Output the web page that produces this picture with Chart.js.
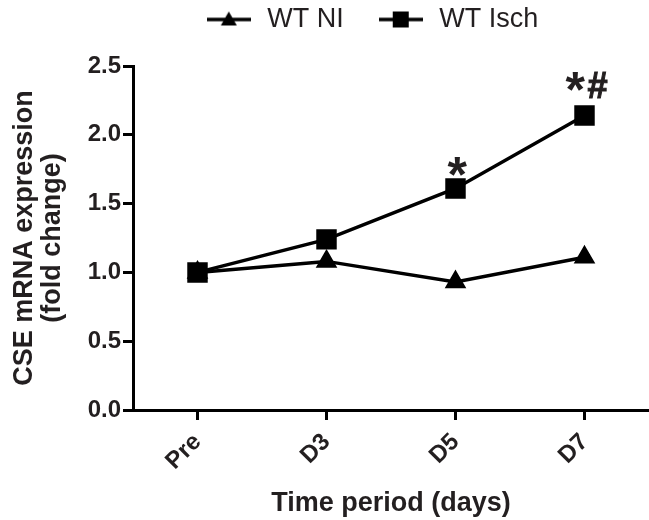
<!DOCTYPE html>
<html>
<head>
<meta charset="utf-8">
<script src="https://cdn.jsdelivr.net/npm/chart.js@4.4.1/dist/chart.umd.min.js"></script>
<style>
  body { margin: 0; background: #fff; }
  #chart { display: block; }
</style>
</head>
<body>
<canvas id="chart" width="649" height="520"></canvas>
<script>
const categories = ['Pre', 'D3', 'D5', 'D7'];
const wtNI = [1.0, 1.08, 0.93, 1.11];
const wtIsch = [1.0, 1.24, 1.61, 2.14];
const yTicks = [0, 0.5, 1.0, 1.5, 2.0, 2.5];
const marks = ['', '', '*', '*#'];   // significance marks over WT Isch

const FONT = "'Liberation Sans', Arial, sans-serif";
const TEXT = '#231f20';
const markTop = [0, 0, 31, 44];      // px from point centre up to top of mark
const glyphHeight = { '*': 19, '#': 25 };

// legend icon: line with the marker in the middle
function legendIcon(style) {
    const c = document.createElement('canvas');
    c.width = 44;
    c.height = 22;
    const ctx = c.getContext('2d');
    ctx.strokeStyle = '#000';
    ctx.lineWidth = 3.5;
    ctx.beginPath();
    ctx.moveTo(0, 11);
    ctx.lineTo(44, 11);
    ctx.stroke();
    ctx.fillStyle = '#000';
    ctx.beginPath();
    if (style === 'triangle') {
        ctx.moveTo(22, 3);
        ctx.lineTo(30, 17);
        ctx.lineTo(14, 17);
    } else {
        ctx.rect(14, 3, 16, 16);
    }
    ctx.fill();
    return c;
}
const icons = [legendIcon('triangle'), legendIcon('rect')];

// size a glyph so its inked height matches the target
function glyphMetrics(ctx, ch) {
    ctx.font = 'bold 100px ' + FONT;
    let m = ctx.measureText(ch);
    const size = 100 * glyphHeight[ch] / (m.actualBoundingBoxAscent + m.actualBoundingBoxDescent);
    ctx.font = 'bold ' + size + 'px ' + FONT;
    m = ctx.measureText(ch);
    return { ch: ch, font: ctx.font, m: m, w: m.actualBoundingBoxLeft + m.actualBoundingBoxRight };
}

const tweaks = {
    id: 'tweaks',
    afterInit(chart) {
        const lg = chart.legend;
        const fit = lg.fit.bind(lg);
        lg.fit = () => { fit(); lg.height = 62; };
    },
    afterLayout(chart) {
        chart.legend.left = 93;
        chart.legend.top = -26;
    },
    afterDatasetsDraw(chart) {
        const ctx = chart.ctx;
        const meta = chart.getDatasetMeta(1);
        ctx.save();
        ctx.fillStyle = TEXT;
        ctx.strokeStyle = TEXT;
        ctx.lineWidth = 1;
        ctx.textAlign = 'left';
        ctx.textBaseline = 'alphabetic';
        marks.forEach((m, i) => {
            if (!m) return;
            const p = meta.data[i];
            const glyphs = m.split('').map(ch => glyphMetrics(ctx, ch));
            const total = glyphs.reduce((s, g) => s + g.w, 0) + 2 * (glyphs.length - 1);
            let x = p.x + 2 - total / 2;
            const top = p.y - markTop[i];
            glyphs.forEach(g => {
                ctx.font = g.font;
                const gx = x + g.m.actualBoundingBoxLeft;
                const gy = top + g.m.actualBoundingBoxAscent;
                ctx.fillText(g.ch, gx, gy);
                if (g.ch === '#') ctx.strokeText(g.ch, gx, gy);
                x += g.w + 2;
            });
        });
        ctx.restore();
    }
};

const axisGrid = {
    display: true,
    drawOnChartArea: false,
    drawTicks: true,
    tickLength: 10,
    tickWidth: 3,
    tickColor: '#000',
    offset: false
};

new Chart(document.getElementById('chart'), {
    type: 'line',
    data: {
        labels: categories,
        datasets: [{
            label: 'WT NI',
            data: wtNI,
            borderColor: '#000',
            backgroundColor: '#000',
            borderWidth: 3.5,
            pointStyle: 'triangle',
            pointRadius: 9,
            pointHoverRadius: 9,
            tension: 0
        }, {
            label: 'WT Isch',
            data: wtIsch,
            borderColor: '#000',
            backgroundColor: '#000',
            borderWidth: 3.5,
            pointStyle: 'rect',
            pointRadius: 12,
            pointHoverRadius: 12,
            tension: 0
        }]
    },
    options: {
        responsive: false,
        animation: false,
        layout: { autoPadding: false, padding: { left: 8, right: 0, top: 4, bottom: 0 } },
        plugins: {
            tooltip: { enabled: false },
            legend: {
                position: 'top',
                fullSize: false,
                labels: {
                    usePointStyle: true,
                    pointStyleWidth: 50,
                    padding: 32,
                    color: TEXT,
                    font: { family: FONT, size: 27 },
                    generateLabels: chart => chart.data.datasets.map((ds, i) => ({
                        text: ds.label,
                        pointStyle: icons[i],
                        fillStyle: '#000',
                        strokeStyle: '#000',
                        lineWidth: 0,
                        hidden: false,
                        datasetIndex: i,
                        fontColor: TEXT
                    }))
                }
            }
        },
        scales: {
            x: {
                type: 'category',
                offset: true,
                grid: axisGrid,
                border: { display: true, color: '#000', width: 3 },
                ticks: {
                    color: TEXT,
                    font: { family: FONT, size: 24, weight: 'bold' },
                    minRotation: 45,
                    maxRotation: 45,
                    padding: 8
                },
                title: {
                    display: true,
                    text: 'Time period (days)',
                    color: TEXT,
                    font: { family: FONT, size: 27, weight: 'bold' },
                    padding: { top: 0, bottom: 0 }
                },
                afterFit: s => {
                    s.height = 110;
                    s.paddingLeft = 0;
                    s.paddingRight = 0;
                }
            },
            y: {
                min: 0,
                max: 2.5,
                grid: axisGrid,
                border: { display: true, color: '#000', width: 3 },
                afterBuildTicks: s => { s.ticks = yTicks.map(v => ({ value: v })); },
                ticks: {
                    color: TEXT,
                    font: { family: FONT, size: 24, weight: 'bold' },
                    padding: 2,
                    callback: v => v.toFixed(1)
                },
                title: {
                    display: true,
                    text: ['CSE mRNA expression', '(fold change)'],
                    color: TEXT,
                    font: { family: FONT, size: 27, weight: 'bold', lineHeight: 1.05 },
                    padding: { top: 2, bottom: 0 }
                },
                afterFit: s => { s.width = 125; }
            }
        }
    },
    plugins: [tweaks]
});
</script>
</body>
</html>
